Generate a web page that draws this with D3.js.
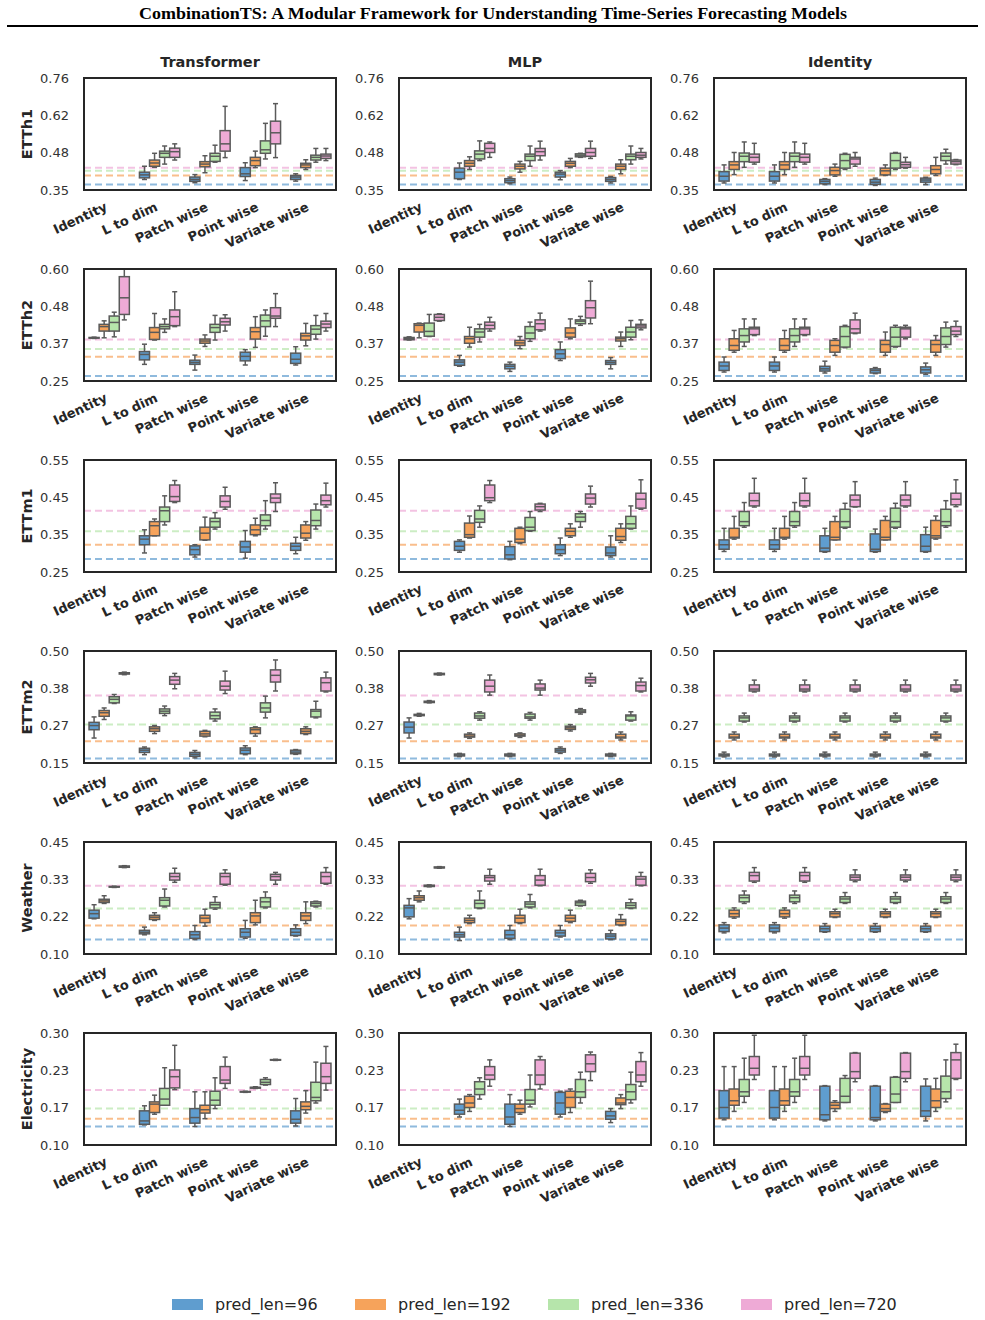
<!DOCTYPE html>
<html>
<head>
<meta charset="utf-8">
<script src="https://cdn.jsdelivr.net/npm/d3@7"></script>
<style>
body { margin: 0; background: #fff; }
svg text { font-family: "DejaVu Sans", sans-serif; }
</style>
</head>
<body>
<div id="chart"></div>
<script>
const datasets = ['ETTh1', 'ETTh2', 'ETTm1', 'ETTm2', 'Weather', 'Electricity']
const models = ['Transformer', 'MLP', 'Identity']
const mixers = ['Identity', 'L to dim', 'Patch wise', 'Point wise', 'Variate wise']
const predLens = ['pred_len=96', 'pred_len=192', 'pred_len=336', 'pred_len=720']
const colors = ['#5f9dcf', '#f6a35b', '#b6e5ab', '#eeaad6']

// y range of each dataset row and the labels printed at its 4 evenly spaced ticks
const yDomains = [[0.345, 0.76], [0.25, 0.60], [0.25, 0.55], [0.15, 0.50], [0.10, 0.45], [0.10, 0.30]]
const yTickLabels = [
  ['0.35', '0.48', '0.62', '0.76'],
  ['0.25', '0.37', '0.48', '0.60'],
  ['0.25', '0.35', '0.45', '0.55'],
  ['0.15', '0.27', '0.38', '0.50'],
  ['0.10', '0.22', '0.33', '0.45'],
  ['0.10', '0.17', '0.23', '0.30']
]
// dashed reference lines, one per pred_len
const baselines = [
  [0.365, 0.399, 0.416, 0.427],
  [0.266, 0.326, 0.350, 0.380],
  [0.285, 0.323, 0.359, 0.414],
  [0.164, 0.218, 0.270, 0.361],
  [0.145, 0.189, 0.242, 0.313],
  [0.133, 0.147, 0.165, 0.198]
]

// box stats: [whisker low, q1, median, q3, whisker high] per mixer, per pred_len
const etth1Transformer = [
  null,
  [[0.384, 0.390, 0.401, 0.411, 0.433], [0.429, 0.433, 0.445, 0.456, 0.481], [0.441, 0.466, 0.481, 0.489, 0.508], [0.456, 0.466, 0.487, 0.500, 0.516]],
  [[0.372, 0.377, 0.384, 0.393, 0.402], [0.409, 0.431, 0.441, 0.450, 0.472], [0.448, 0.451, 0.470, 0.481, 0.511], [0.465, 0.489, 0.516, 0.565, 0.655]],
  [[0.380, 0.395, 0.405, 0.428, 0.446], [0.428, 0.435, 0.454, 0.466, 0.489], [0.460, 0.481, 0.494, 0.527, 0.592], [0.465, 0.516, 0.557, 0.600, 0.665]],
  [[0.378, 0.384, 0.393, 0.399, 0.405], [0.421, 0.428, 0.438, 0.444, 0.457], [0.448, 0.456, 0.466, 0.474, 0.499], [0.454, 0.462, 0.471, 0.478, 0.499]]
]
const etth1Mlp = [
  null,
  [[0.384, 0.387, 0.411, 0.426, 0.445], [0.421, 0.433, 0.444, 0.454, 0.468], [0.454, 0.460, 0.478, 0.490, 0.527], [0.466, 0.484, 0.499, 0.518, 0.523]],
  [[0.368, 0.372, 0.380, 0.387, 0.393], [0.411, 0.423, 0.433, 0.441, 0.451], [0.433, 0.454, 0.470, 0.478, 0.508], [0.456, 0.472, 0.487, 0.499, 0.526]],
  [[0.383, 0.393, 0.404, 0.411, 0.417], [0.428, 0.433, 0.444, 0.451, 0.462], [0.466, 0.468, 0.474, 0.479, 0.481], [0.462, 0.470, 0.484, 0.499, 0.526]],
  [[0.371, 0.377, 0.384, 0.391, 0.395], [0.405, 0.421, 0.433, 0.441, 0.457], [0.441, 0.457, 0.470, 0.478, 0.508], [0.460, 0.466, 0.474, 0.484, 0.499]]
]
const etth1Identity = [
  [[0.371, 0.378, 0.396, 0.413, 0.438], [0.402, 0.421, 0.438, 0.450, 0.484], [0.429, 0.450, 0.470, 0.482, 0.523], [0.441, 0.448, 0.466, 0.478, 0.518]],
  [[0.371, 0.378, 0.396, 0.413, 0.438], [0.402, 0.421, 0.438, 0.450, 0.484], [0.429, 0.450, 0.470, 0.482, 0.523], [0.441, 0.448, 0.466, 0.478, 0.518]],
  [[0.365, 0.368, 0.377, 0.384, 0.387], [0.396, 0.401, 0.417, 0.429, 0.441], [0.421, 0.426, 0.454, 0.477, 0.481], [0.433, 0.441, 0.460, 0.466, 0.484]],
  [[0.362, 0.366, 0.374, 0.384, 0.389], [0.399, 0.401, 0.416, 0.426, 0.438], [0.421, 0.426, 0.454, 0.481, 0.484], [0.426, 0.429, 0.439, 0.448, 0.466]],
  [[0.365, 0.374, 0.382, 0.389, 0.392], [0.399, 0.405, 0.421, 0.435, 0.466], [0.441, 0.454, 0.470, 0.482, 0.496], [0.439, 0.441, 0.450, 0.456, 0.458]]
]

const etth2Transformer = [
  [[0.383, 0.384, 0.385, 0.386, 0.387], [0.385, 0.406, 0.420, 0.427, 0.438], [0.388, 0.406, 0.433, 0.453, 0.465], [0.441, 0.458, 0.510, 0.576, 0.600]],
  [[0.302, 0.316, 0.333, 0.342, 0.365], [0.378, 0.380, 0.402, 0.417, 0.461], [0.402, 0.413, 0.420, 0.427, 0.444], [0.420, 0.423, 0.451, 0.472, 0.529]],
  [[0.284, 0.302, 0.308, 0.315, 0.331], [0.358, 0.368, 0.375, 0.381, 0.394], [0.378, 0.402, 0.417, 0.427, 0.455], [0.406, 0.425, 0.435, 0.446, 0.457]],
  [[0.300, 0.313, 0.327, 0.340, 0.348], [0.355, 0.381, 0.404, 0.417, 0.451], [0.390, 0.420, 0.438, 0.456, 0.472], [0.420, 0.446, 0.453, 0.479, 0.523]],
  [[0.300, 0.305, 0.318, 0.337, 0.357], [0.360, 0.378, 0.391, 0.399, 0.430], [0.381, 0.396, 0.412, 0.423, 0.455], [0.406, 0.417, 0.428, 0.437, 0.461]]
]
const etth2Mlp = [
  [[0.378, 0.379, 0.382, 0.386, 0.388], [0.385, 0.403, 0.424, 0.429, 0.431], [0.389, 0.390, 0.405, 0.431, 0.458], [0.437, 0.439, 0.449, 0.458, 0.460]],
  [[0.296, 0.299, 0.309, 0.316, 0.330], [0.356, 0.368, 0.382, 0.389, 0.418], [0.372, 0.387, 0.403, 0.413, 0.427], [0.406, 0.413, 0.424, 0.434, 0.449]],
  [[0.280, 0.288, 0.296, 0.302, 0.309], [0.351, 0.361, 0.369, 0.377, 0.389], [0.374, 0.382, 0.400, 0.420, 0.434], [0.406, 0.410, 0.429, 0.441, 0.462]],
  [[0.314, 0.320, 0.335, 0.348, 0.372], [0.382, 0.387, 0.400, 0.416, 0.444], [0.424, 0.429, 0.437, 0.441, 0.452], [0.429, 0.447, 0.479, 0.501, 0.562]],
  [[0.288, 0.302, 0.308, 0.314, 0.323], [0.358, 0.375, 0.382, 0.387, 0.403], [0.379, 0.387, 0.403, 0.418, 0.439], [0.410, 0.416, 0.422, 0.427, 0.441]]
]
const etth2Identity = [
  [[0.278, 0.283, 0.297, 0.309, 0.325], [0.340, 0.346, 0.361, 0.382, 0.408], [0.358, 0.372, 0.392, 0.413, 0.444], [0.392, 0.395, 0.413, 0.418, 0.444]],
  [[0.278, 0.283, 0.297, 0.309, 0.325], [0.340, 0.346, 0.361, 0.382, 0.408], [0.358, 0.372, 0.392, 0.413, 0.444], [0.392, 0.395, 0.413, 0.418, 0.444]],
  [[0.275, 0.281, 0.288, 0.296, 0.312], [0.330, 0.340, 0.361, 0.377, 0.382], [0.354, 0.356, 0.389, 0.420, 0.424], [0.398, 0.400, 0.413, 0.441, 0.462]],
  [[0.273, 0.275, 0.283, 0.288, 0.292], [0.330, 0.340, 0.364, 0.377, 0.403], [0.356, 0.358, 0.387, 0.418, 0.424], [0.382, 0.387, 0.413, 0.418, 0.424]],
  [[0.271, 0.275, 0.285, 0.294, 0.306], [0.330, 0.340, 0.364, 0.377, 0.392], [0.356, 0.364, 0.389, 0.416, 0.434], [0.389, 0.395, 0.406, 0.420, 0.437]]
]

const ettm1Transformer = [
  null,
  [[0.301, 0.323, 0.338, 0.347, 0.363], [0.347, 0.347, 0.374, 0.385, 0.392], [0.376, 0.385, 0.414, 0.424, 0.454], [0.436, 0.439, 0.452, 0.483, 0.495]],
  [[0.290, 0.296, 0.310, 0.320, 0.323], [0.335, 0.336, 0.354, 0.370, 0.397], [0.365, 0.370, 0.385, 0.394, 0.409], [0.418, 0.424, 0.439, 0.454, 0.477]],
  [[0.287, 0.303, 0.317, 0.332, 0.361], [0.347, 0.350, 0.363, 0.376, 0.394], [0.365, 0.374, 0.388, 0.403, 0.441], [0.412, 0.436, 0.448, 0.459, 0.489]],
  [[0.299, 0.308, 0.319, 0.327, 0.343], [0.335, 0.341, 0.354, 0.376, 0.385], [0.365, 0.374, 0.388, 0.416, 0.432], [0.424, 0.430, 0.441, 0.456, 0.488]]
]
const ettm1Mlp = [
  null,
  [[0.303, 0.308, 0.319, 0.332, 0.336], [0.341, 0.343, 0.350, 0.381, 0.400], [0.370, 0.383, 0.392, 0.415, 0.427], [0.436, 0.441, 0.449, 0.483, 0.495]],
  [[0.283, 0.285, 0.296, 0.318, 0.332], [0.326, 0.329, 0.338, 0.367, 0.370], [0.359, 0.361, 0.370, 0.396, 0.412], [0.412, 0.416, 0.425, 0.432, 0.434]],
  [[0.294, 0.299, 0.310, 0.323, 0.341], [0.343, 0.347, 0.359, 0.367, 0.379], [0.370, 0.385, 0.397, 0.406, 0.412], [0.424, 0.432, 0.448, 0.459, 0.480]],
  [[0.290, 0.294, 0.301, 0.317, 0.347], [0.329, 0.335, 0.345, 0.367, 0.379], [0.365, 0.367, 0.379, 0.399, 0.427], [0.418, 0.421, 0.445, 0.461, 0.497]]
]
const ettm1Identity = [
  [[0.305, 0.311, 0.323, 0.336, 0.367], [0.338, 0.341, 0.343, 0.367, 0.399], [0.370, 0.374, 0.385, 0.412, 0.436], [0.424, 0.427, 0.441, 0.461, 0.501]],
  [[0.305, 0.311, 0.323, 0.336, 0.367], [0.338, 0.341, 0.343, 0.367, 0.399], [0.370, 0.374, 0.385, 0.412, 0.436], [0.424, 0.427, 0.441, 0.461, 0.501]],
  [[0.303, 0.305, 0.314, 0.347, 0.367], [0.336, 0.336, 0.343, 0.385, 0.399], [0.367, 0.370, 0.385, 0.418, 0.434], [0.424, 0.425, 0.443, 0.456, 0.492]],
  [[0.303, 0.305, 0.311, 0.352, 0.365], [0.336, 0.336, 0.343, 0.388, 0.399], [0.367, 0.370, 0.385, 0.421, 0.434], [0.424, 0.427, 0.443, 0.456, 0.492]],
  [[0.303, 0.305, 0.319, 0.350, 0.370], [0.338, 0.341, 0.347, 0.388, 0.400], [0.370, 0.374, 0.385, 0.418, 0.441], [0.425, 0.430, 0.445, 0.461, 0.497]]
]

const ettm2Transformer = [
  [[0.228, 0.254, 0.267, 0.277, 0.294], [0.286, 0.296, 0.307, 0.314, 0.322], [0.336, 0.338, 0.349, 0.357, 0.364], [0.426, 0.428, 0.430, 0.432, 0.434]],
  [[0.176, 0.183, 0.190, 0.196, 0.200], [0.242, 0.249, 0.257, 0.263, 0.267], [0.298, 0.305, 0.312, 0.319, 0.328], [0.382, 0.396, 0.409, 0.420, 0.430]],
  [[0.166, 0.171, 0.177, 0.183, 0.189], [0.232, 0.234, 0.241, 0.249, 0.252], [0.281, 0.288, 0.298, 0.309, 0.319], [0.367, 0.378, 0.390, 0.406, 0.437]],
  [[0.176, 0.179, 0.190, 0.197, 0.204], [0.234, 0.242, 0.254, 0.260, 0.263], [0.291, 0.309, 0.322, 0.338, 0.359], [0.375, 0.403, 0.424, 0.441, 0.472]],
  [[0.177, 0.179, 0.184, 0.190, 0.192], [0.239, 0.242, 0.249, 0.257, 0.263], [0.291, 0.294, 0.312, 0.317, 0.343], [0.372, 0.375, 0.401, 0.416, 0.434]]
]
const ettm2Mlp = [
  [[0.228, 0.244, 0.262, 0.278, 0.291], [0.296, 0.298, 0.300, 0.302, 0.305], [0.338, 0.339, 0.341, 0.343, 0.345], [0.425, 0.426, 0.428, 0.430, 0.431]],
  [[0.170, 0.172, 0.175, 0.178, 0.180], [0.227, 0.231, 0.234, 0.240, 0.244], [0.284, 0.290, 0.297, 0.306, 0.310], [0.362, 0.372, 0.390, 0.409, 0.425]],
  [[0.170, 0.172, 0.175, 0.178, 0.180], [0.230, 0.234, 0.237, 0.241, 0.244], [0.284, 0.290, 0.294, 0.303, 0.308], [0.362, 0.378, 0.384, 0.397, 0.409]],
  [[0.180, 0.184, 0.190, 0.195, 0.200], [0.250, 0.255, 0.260, 0.265, 0.270], [0.303, 0.308, 0.312, 0.316, 0.320], [0.390, 0.400, 0.410, 0.418, 0.430]],
  [[0.170, 0.172, 0.175, 0.178, 0.180], [0.222, 0.228, 0.231, 0.240, 0.247], [0.281, 0.284, 0.297, 0.300, 0.310], [0.372, 0.375, 0.392, 0.403, 0.415]]
]
const ettm2Identity = [
  [[0.169, 0.172, 0.175, 0.178, 0.184], [0.222, 0.228, 0.231, 0.240, 0.247], [0.278, 0.281, 0.291, 0.297, 0.306], [0.372, 0.375, 0.381, 0.394, 0.409]],
  [[0.169, 0.172, 0.175, 0.178, 0.184], [0.222, 0.228, 0.231, 0.240, 0.247], [0.278, 0.281, 0.291, 0.297, 0.306], [0.372, 0.375, 0.381, 0.394, 0.409]],
  [[0.169, 0.172, 0.175, 0.178, 0.184], [0.222, 0.228, 0.231, 0.240, 0.247], [0.278, 0.281, 0.291, 0.297, 0.306], [0.372, 0.375, 0.381, 0.394, 0.409]],
  [[0.169, 0.172, 0.175, 0.178, 0.184], [0.222, 0.228, 0.231, 0.240, 0.247], [0.278, 0.281, 0.291, 0.297, 0.306], [0.372, 0.375, 0.381, 0.394, 0.409]],
  [[0.169, 0.172, 0.175, 0.178, 0.184], [0.222, 0.228, 0.231, 0.240, 0.247], [0.278, 0.281, 0.291, 0.297, 0.306], [0.372, 0.375, 0.381, 0.394, 0.409]]
]

const weatherTransformer = [
  [[0.210, 0.212, 0.226, 0.237, 0.254], [0.258, 0.261, 0.266, 0.271, 0.282], [0.308, 0.309, 0.310, 0.311, 0.312], [0.370, 0.371, 0.373, 0.375, 0.376]],
  [[0.160, 0.163, 0.168, 0.174, 0.184], [0.205, 0.208, 0.215, 0.221, 0.229], [0.247, 0.250, 0.268, 0.276, 0.303], [0.324, 0.331, 0.342, 0.352, 0.368]],
  [[0.145, 0.149, 0.160, 0.170, 0.189], [0.187, 0.198, 0.212, 0.221, 0.240], [0.240, 0.244, 0.254, 0.261, 0.279], [0.315, 0.318, 0.342, 0.352, 0.363]],
  [[0.149, 0.153, 0.168, 0.179, 0.205], [0.191, 0.198, 0.219, 0.229, 0.268], [0.244, 0.247, 0.263, 0.276, 0.294], [0.318, 0.331, 0.342, 0.349, 0.355]],
  [[0.156, 0.158, 0.168, 0.179, 0.191], [0.195, 0.205, 0.219, 0.229, 0.263], [0.247, 0.250, 0.258, 0.263, 0.265], [0.318, 0.321, 0.342, 0.355, 0.370]]
]
const weatherMlp = [
  [[0.210, 0.216, 0.244, 0.252, 0.273], [0.263, 0.268, 0.276, 0.282, 0.297], [0.310, 0.311, 0.313, 0.315, 0.316], [0.368, 0.369, 0.370, 0.372, 0.373]],
  [[0.142, 0.153, 0.160, 0.168, 0.184], [0.195, 0.198, 0.205, 0.212, 0.221], [0.242, 0.244, 0.258, 0.268, 0.297], [0.318, 0.328, 0.339, 0.345, 0.365]],
  [[0.145, 0.149, 0.160, 0.174, 0.189], [0.195, 0.198, 0.212, 0.221, 0.240], [0.244, 0.247, 0.256, 0.263, 0.286], [0.313, 0.315, 0.331, 0.345, 0.365]],
  [[0.153, 0.156, 0.166, 0.174, 0.189], [0.198, 0.202, 0.212, 0.221, 0.237], [0.250, 0.252, 0.260, 0.265, 0.268], [0.321, 0.326, 0.339, 0.352, 0.363]],
  [[0.145, 0.147, 0.156, 0.163, 0.174], [0.189, 0.191, 0.202, 0.208, 0.223], [0.242, 0.244, 0.252, 0.260, 0.271], [0.313, 0.315, 0.334, 0.342, 0.355]]
]
const weatherIdentity = [
  [[0.166, 0.170, 0.181, 0.191, 0.198], [0.212, 0.216, 0.226, 0.237, 0.244], [0.258, 0.263, 0.276, 0.284, 0.297], [0.324, 0.328, 0.345, 0.355, 0.370]],
  [[0.166, 0.170, 0.181, 0.191, 0.198], [0.212, 0.216, 0.226, 0.237, 0.244], [0.258, 0.263, 0.276, 0.284, 0.297], [0.324, 0.328, 0.345, 0.355, 0.370]],
  [[0.168, 0.170, 0.179, 0.187, 0.195], [0.214, 0.216, 0.226, 0.232, 0.240], [0.258, 0.261, 0.272, 0.279, 0.292], [0.326, 0.331, 0.340, 0.347, 0.363]],
  [[0.168, 0.170, 0.179, 0.187, 0.195], [0.214, 0.216, 0.226, 0.232, 0.240], [0.258, 0.261, 0.272, 0.279, 0.292], [0.326, 0.331, 0.340, 0.347, 0.363]],
  [[0.168, 0.170, 0.179, 0.187, 0.195], [0.214, 0.216, 0.226, 0.232, 0.240], [0.258, 0.261, 0.272, 0.279, 0.292], [0.326, 0.331, 0.340, 0.347, 0.363]]
]

const electricityTransformer = [
  null,
  [[0.136, 0.137, 0.143, 0.161, 0.170], [0.155, 0.158, 0.173, 0.177, 0.189], [0.171, 0.171, 0.182, 0.201, 0.238], [0.199, 0.202, 0.222, 0.234, 0.278]],
  [[0.133, 0.139, 0.149, 0.165, 0.195], [0.147, 0.157, 0.163, 0.171, 0.195], [0.165, 0.171, 0.180, 0.196, 0.220], [0.201, 0.210, 0.216, 0.240, 0.257]],
  [[0.194, 0.1945, 0.195, 0.1955, 0.196], [0.201, 0.2015, 0.2025, 0.203, 0.204], [0.207, 0.208, 0.212, 0.217, 0.220], [0.251, 0.2515, 0.252, 0.2525, 0.253]],
  [[0.134, 0.139, 0.146, 0.161, 0.183], [0.157, 0.163, 0.169, 0.177, 0.197], [0.175, 0.179, 0.185, 0.212, 0.248], [0.198, 0.210, 0.222, 0.246, 0.276]]
]
const electricityMlp = [
  null,
  [[0.150, 0.155, 0.162, 0.173, 0.182], [0.160, 0.167, 0.175, 0.187, 0.190], [0.182, 0.190, 0.200, 0.213, 0.220], [0.205, 0.217, 0.225, 0.240, 0.252]],
  [[0.133, 0.137, 0.150, 0.173, 0.190], [0.155, 0.158, 0.165, 0.173, 0.180], [0.168, 0.173, 0.180, 0.199, 0.225], [0.200, 0.208, 0.225, 0.252, 0.258]],
  [[0.150, 0.155, 0.175, 0.194, 0.196], [0.158, 0.167, 0.185, 0.196, 0.200], [0.175, 0.185, 0.195, 0.217, 0.230], [0.215, 0.231, 0.245, 0.261, 0.266]],
  [[0.140, 0.146, 0.152, 0.160, 0.165], [0.165, 0.172, 0.175, 0.184, 0.190], [0.175, 0.181, 0.195, 0.208, 0.230], [0.205, 0.213, 0.225, 0.249, 0.265]]
]
const electricityIdentity = [
  [[0.145, 0.148, 0.167, 0.197, 0.240], [0.160, 0.171, 0.179, 0.200, 0.240], [0.176, 0.187, 0.195, 0.217, 0.255], [0.217, 0.225, 0.237, 0.258, 0.296]],
  [[0.145, 0.148, 0.167, 0.197, 0.240], [0.160, 0.171, 0.179, 0.200, 0.240], [0.176, 0.187, 0.195, 0.217, 0.255], [0.217, 0.225, 0.237, 0.258, 0.296]],
  [[0.143, 0.145, 0.154, 0.205, 0.206], [0.160, 0.165, 0.171, 0.176, 0.179], [0.176, 0.176, 0.187, 0.219, 0.224], [0.213, 0.219, 0.231, 0.264, 0.265]],
  [[0.143, 0.145, 0.149, 0.205, 0.206], [0.158, 0.160, 0.165, 0.173, 0.174], [0.176, 0.176, 0.191, 0.221, 0.222], [0.213, 0.219, 0.231, 0.264, 0.265]],
  [[0.143, 0.151, 0.161, 0.205, 0.218], [0.160, 0.167, 0.179, 0.200, 0.219], [0.177, 0.183, 0.195, 0.223, 0.252], [0.217, 0.219, 0.252, 0.265, 0.280]]
]

const panels = [
  [etth1Transformer, etth1Mlp, etth1Identity],
  [etth2Transformer, etth2Mlp, etth2Identity],
  [ettm1Transformer, ettm1Mlp, ettm1Identity],
  [ettm2Transformer, ettm2Mlp, ettm2Identity],
  [weatherTransformer, weatherMlp, weatherIdentity],
  [electricityTransformer, electricityMlp, electricityIdentity]
]

const width = 985
const height = 1320
const colLeft = [84, 399, 714]
const plotW = 252
const plotH = 112
const rowTop = r => 78 + 191 * r
const edge = '#5a5a5a'
const ink = '#262626'

const svg = d3.select('#chart')
  .append('svg')
  .attr('width', width)
  .attr('height', height)

svg.append('text')
  .attr('x', 493)
  .attr('y', 19)
  .attr('text-anchor', 'middle')
  .style('font-family', '"Liberation Serif", serif')
  .style('font-weight', 'bold')
  .style('font-size', '17px')
  .attr('textLength', 708)
  .attr('lengthAdjust', 'spacingAndGlyphs')
  .text('CombinationTS: A Modular Framework for Understanding Time-Series Forecasting Models')

svg.append('line')
  .attr('x1', 7).attr('x2', 978)
  .attr('y1', 26).attr('y2', 26)
  .attr('stroke', '#000')
  .attr('stroke-width', 2)

datasets.forEach((ds, r) => {
  models.forEach((model, c) => {
    const left = colLeft[c]
    const top = rowTop(r)
    const [lo, hi] = yDomains[r]

    const x = d3.scaleBand().domain(mixers).range([left, left + plotW])
    const bw = x.bandwidth()
    const hue = d3.scaleBand().domain(predLens).range([0.1 * bw, 0.9 * bw])
    const y = d3.scaleLinear().domain([lo, hi]).range([top + plotH, top])

    const g = svg.append('g')

    // dashed reference lines
    g.selectAll('line.base')
      .data(baselines[r])
      .enter()
      .append('line')
      .attr('class', 'base')
      .attr('x1', left).attr('x2', left + plotW)
      .attr('y1', d => y(d)).attr('y2', d => y(d))
      .attr('stroke', (d, i) => colors[i])
      .attr('stroke-opacity', 0.7)
      .attr('stroke-width', 2)
      .attr('stroke-dasharray', '7,4')

    // boxes
    const boxes = []
    panels[r][c].forEach((cat, i) => {
      if (!cat) return
      cat.forEach((s, j) => boxes.push({mixer: mixers[i], p: j, s}))
    })

    const bx = g.selectAll('g.box')
      .data(boxes)
      .enter()
      .append('g')
      .attr('class', 'box')
      .attr('transform', d => `translate(${x(d.mixer) + hue(predLens[d.p])}, 0)`)

    const hw = hue.bandwidth()
    bx.append('line')
      .attr('x1', hw / 2).attr('x2', hw / 2)
      .attr('y1', d => y(d.s[0])).attr('y2', d => y(d.s[4]))
      .attr('stroke', edge).attr('stroke-width', 1.5)
    bx.selectAll('line.cap')
      .data(d => [d.s[0], d.s[4]])
      .enter()
      .append('line')
      .attr('class', 'cap')
      .attr('x1', hw / 4).attr('x2', hw * 3 / 4)
      .attr('y1', v => y(v)).attr('y2', v => y(v))
      .attr('stroke', edge).attr('stroke-width', 1.5)
    bx.append('rect')
      .attr('x', 0)
      .attr('width', hw)
      .attr('y', d => y(d.s[3]))
      .attr('height', d => Math.max(0.5, y(d.s[1]) - y(d.s[3])))
      .attr('fill', d => colors[d.p])
      .attr('stroke', edge).attr('stroke-width', 1.5)
    bx.append('line')
      .attr('x1', 0).attr('x2', hw)
      .attr('y1', d => y(d.s[2])).attr('y2', d => y(d.s[2]))
      .attr('stroke', edge).attr('stroke-width', 1.5)

    // frame
    g.append('rect')
      .attr('x', left).attr('y', top)
      .attr('width', plotW).attr('height', plotH)
      .attr('fill', 'none')
      .attr('stroke', ink)
      .attr('stroke-width', 2)

    // axes
    const leftAxis = d3.axisLeft(y)
      .tickValues(d3.range(4).map(k => lo + k * (hi - lo) / 3))
      .tickFormat((d, k) => yTickLabels[r][k])
      .tickSize(0)
      .tickPadding(15)
    const ya = g.append('g')
      .attr('transform', `translate(${left}, 0)`)
      .call(leftAxis)
    ya.select('.domain').remove()
    ya.selectAll('text')
      .style('font-family', '"DejaVu Sans", sans-serif')
      .style('font-size', '13px')
      .attr('fill', '#333')

    const xa = g.append('g')
      .attr('transform', `translate(0, ${top + plotH})`)
      .call(d3.axisBottom(x).tickSize(0))
    xa.select('.domain').remove()
    xa.selectAll('text')
      .attr('y', 0).attr('dy', 0)
      .attr('text-anchor', 'end')
      .attr('transform', 'translate(-1, 20) rotate(-25)')
      .style('font-family', '"DejaVu Sans", sans-serif')
      .style('font-size', '13px')
      .style('font-weight', 'bold')
      .attr('fill', ink)

    if (r === 0) {
      svg.append('text')
        .attr('x', left + plotW / 2)
        .attr('y', 67)
        .attr('text-anchor', 'middle')
        .style('font-weight', 'bold')
        .style('font-size', '14.5px')
        .attr('fill', ink)
        .text(model)
    }
    if (c === 0) {
      svg.append('text')
        .attr('transform', `translate(32, ${top + plotH / 2}) rotate(-90)`)
        .attr('text-anchor', 'middle')
        .style('font-weight', 'bold')
        .style('font-size', '14.5px')
        .attr('fill', ink)
        .text(ds)
    }
  })
})

// legend
const legendX = [172, 355, 548, 741]
const legend = svg.selectAll('g.legend')
  .data(predLens)
  .enter()
  .append('g')
  .attr('class', 'legend')
  .attr('transform', (d, i) => `translate(${legendX[i]}, 1299)`)
legend.append('rect')
  .attr('width', 31).attr('height', 11)
  .attr('fill', (d, i) => colors[i])
legend.append('text')
  .attr('x', 43).attr('y', 11)
  .style('font-size', '16px')
  .attr('fill', ink)
  .text(d => d)
</script>
</body>
</html>
